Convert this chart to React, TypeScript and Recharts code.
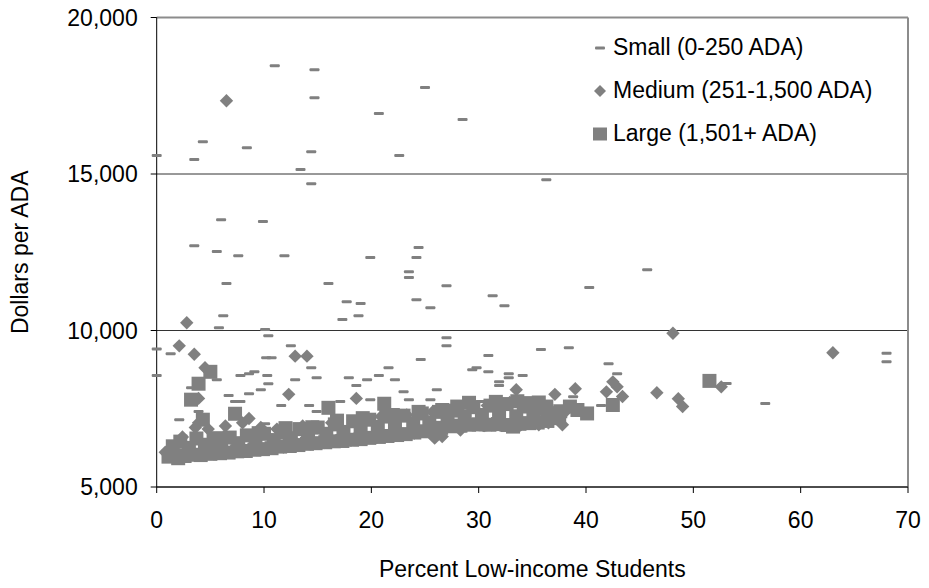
import {
  ScatterChart,
  Scatter,
  XAxis,
  YAxis,
  CartesianGrid,
  ReferenceLine,
  Legend,
} from "recharts";

const xTicks = [0, 10, 20, 30, 40, 50, 60, 70];
const yTicks = [5000, 10000, 15000, 20000];
const seriesNames = ["Small (0-250 ADA)", "Medium (251-1,500 ADA)", "Large (1,501+ ADA)"];

// [percent low-income, dollars per ADA]
const smallSchools: [number, number][] = [
  [11.0, 18460], [14.7, 18330], [25.0, 17760], [14.7, 17440], [20.7, 16930], [28.5, 16740],
  [4.3, 16030], [8.4, 15840], [0.0, 15590], [3.5, 15460], [14.4, 15710], [22.6, 15590],
  [13.4, 15140], [14.4, 14690], [36.3, 14820], [6.0, 13540], [9.9, 13480], [3.5, 12710],
  [5.6, 12520], [7.6, 12390], [11.9, 12390], [19.9, 12330], [24.4, 12650], [24.2, 12330],
  [23.5, 11880], [23.5, 11690], [27.0, 11430], [6.5, 11500], [16.0, 11500], [17.7, 10920],
  [19.0, 10860], [24.2, 10980], [25.5, 10730], [31.3, 11110], [32.4, 10790], [40.3, 11370],
  [45.7, 11940], [6.2, 10470], [17.3, 10350], [18.8, 10470], [5.8, 10090], [10.1, 10030],
  [10.4, 9830], [12.5, 9510], [27.0, 9770], [27.0, 9510], [0.0, 9410], [35.8, 9390],
  [38.4, 9450], [1.3, 9260], [0.0, 8560], [10.2, 9130], [10.7, 9130], [14.4, 8810],
  [10.3, 8560], [7.8, 8560], [8.6, 8620], [9.1, 8680], [10.4, 8300], [12.9, 8430],
  [14.9, 8490], [17.9, 8490], [19.6, 8430], [20.7, 8560], [21.6, 8810], [24.6, 9070],
  [22.2, 8430], [18.6, 8240], [23.0, 8040], [26.1, 8110], [6.7, 7920], [8.6, 7980],
  [9.7, 8110], [7.3, 7730], [7.8, 7730], [11.6, 7600], [14.2, 7600], [14.9, 7410],
  [17.1, 7730], [19.9, 7790], [23.5, 7790], [25.5, 7790], [3.9, 7410], [2.1, 7150],
  [3.2, 8170], [5.6, 8430], [10.1, 7020], [30.9, 9200], [29.4, 8750], [29.8, 8810],
  [30.9, 8680], [32.8, 8620], [32.8, 8490], [34.1, 8560], [31.9, 8360], [31.9, 8240],
  [42.1, 8940], [42.9, 8620], [41.4, 7600], [30.2, 7730], [30.4, 6830], [38.8, 7880],
  [53.1, 8310], [56.7, 7670], [68.0, 9270], [68.0, 9000],
];

const mediumSchools: [number, number][] = [
  [6.5, 17340], [2.8, 10250], [2.1, 9510], [3.5, 9240], [4.5, 8810], [12.9, 9180],
  [14.0, 9180], [12.3, 7960], [18.6, 7830], [0.8, 6110], [3.9, 7830], [8.6, 7190],
  [25.9, 6560], [48.1, 9910], [33.5, 8110], [37.1, 7960], [39.0, 8140], [42.5, 8360],
  [42.9, 8200], [41.9, 8040], [43.4, 7890], [46.6, 8010], [48.6, 7820], [49.0, 7570],
  [52.6, 8200], [37.8, 6990], [35.6, 6990], [28.3, 6820], [26.6, 6610], [31.2, 6990],
  [63.0, 9290],
  [3.9, 7050], [4.8, 6850], [5.2, 6100], [7.0, 6150], [8.8, 6180], [10.3, 6250],
  [11.8, 6280], [12.9, 6320], [14.3, 6380], [15.6, 6420], [16.9, 6460], [18.1, 6490],
  [19.2, 6540], [20.5, 6580], [21.7, 6620], [22.9, 6670], [24.0, 6720], [27.0, 6900],
  [28.8, 6950], [30.5, 6960], [32.0, 6970], [33.9, 6980], [36.5, 7050],
  [2.4, 6600], [3.6, 6900], [6.4, 6950], [8.0, 7050], [9.7, 6900], [11.2, 6850],
  [13.6, 6950], [16.3, 7050], [18.9, 7150], [20.9, 7250], [23.3, 7300], [25.7, 7400],
  [28.0, 7500], [30.8, 7600], [32.9, 7700], [34.8, 7650], [38.2, 7450],
];

const largeSchools: [number, number][] = [
  [5.0, 8680], [3.9, 8300], [3.2, 7790], [7.3, 7340], [4.3, 7150], [16.0, 7530],
  [21.2, 7660], [2.0, 5920], [51.5, 8390], [42.5, 7620], [40.1, 7350], [38.5, 7570],
  [33.2, 6930], [34.2, 7570], [28.0, 7570], [36.3, 7570],
  [1.1, 5970], [1.7, 6010], [2.6, 5990], [3.4, 6030], [4.1, 6020], [5.0, 6060],
  [5.9, 6080], [6.7, 6100], [7.5, 6140], [8.3, 6150], [9.1, 6190], [9.9, 6210],
  [10.7, 6240], [11.5, 6290], [12.4, 6310], [13.2, 6340], [14.0, 6380], [14.8, 6400],
  [15.7, 6430], [16.5, 6460], [17.3, 6470], [18.2, 6510], [19.0, 6530], [19.8, 6570],
  [20.7, 6600], [21.5, 6630], [22.4, 6660], [23.2, 6690], [24.0, 6740], [24.9, 6780],
  [25.7, 6840], [26.5, 6890], [27.4, 6940], [28.3, 6960], [29.1, 6990], [30.0, 7000],
  [31.0, 6990], [31.8, 7010], [32.7, 6980], [33.8, 7020], [34.7, 7040], [35.5, 7060],
  [36.4, 7110], [37.5, 7200],
  [1.5, 6300], [2.2, 6450], [3.0, 6250], [3.7, 6550], [4.5, 6350], [5.3, 6500],
  [6.0, 6300], [6.8, 6580], [7.6, 6400], [8.4, 6650], [9.2, 6450], [10.0, 6700],
  [10.9, 6500], [11.7, 6740], [12.5, 6560], [13.3, 6850], [14.1, 6620], [15.0, 6900],
  [15.8, 6700], [16.6, 7000], [17.4, 6760], [18.3, 7100], [19.0, 6860], [19.8, 7150],
  [20.6, 6920], [21.4, 7250], [22.2, 6960], [23.0, 7280], [23.9, 7020], [24.7, 7350],
  [25.4, 7060], [26.3, 7400], [27.1, 7160], [27.8, 7440], [28.7, 7250], [29.5, 7550],
  [30.3, 7300], [31.1, 7600], [31.9, 7340], [32.6, 7650], [33.5, 7260], [34.4, 7680],
  [35.1, 7320], [35.9, 7500], [36.8, 7360], [37.6, 7420], [39.2, 7460],
  [5.6, 6560], [9.5, 6720], [12.0, 6880], [14.5, 6910], [16.8, 7120], [19.2, 7200],
  [22.0, 7300], [24.4, 7400], [26.6, 7460], [29.1, 7690], [31.6, 7720], [33.6, 7740],
  [35.6, 7700],
];

const GRAY = "#808080";
const FONT = '"Liberation Sans", Arial, Helvetica, sans-serif';
const FONT_SIZE = 23;

const toPoints = (rows: [number, number][]) => rows.map(([x, y]) => ({ x, y }));

function Dash(props: any) {
  const { cx, cy } = props;
  return <rect x={cx - 5} y={cy - 1.5} width={10} height={3} rx={1} fill={GRAY} />;
}

function Diamond(props: any) {
  const { cx, cy } = props;
  const r = 6.7;
  return (
    <polygon
      points={`${cx},${cy - r} ${cx + r},${cy} ${cx},${cy + r} ${cx - r},${cy}`}
      fill={GRAY}
    />
  );
}

function Square(props: any) {
  const { cx, cy } = props;
  return <rect x={cx - 7} y={cy - 7} width={14} height={14} fill={GRAY} />;
}

const legendMarkers = [
  <rect x={2} y={5.5} width={10} height={3} rx={1} fill={GRAY} />,
  <polygon points="7,1 13,7 7,13 1,7" fill={GRAY} />,
  <rect x={0} y={0.5} width={14} height={13} fill={GRAY} />,
];

function LegendBox() {
  return (
    <div style={{ fontFamily: FONT, fontSize: FONT_SIZE, color: "#000" }}>
      {seriesNames.map((name, i) => (
        <div key={name} style={{ display: "flex", alignItems: "center", height: 43 }}>
          <svg width={14} height={14} style={{ marginRight: 6 }}>
            {legendMarkers[i]}
          </svg>
          <span style={{ whiteSpace: "nowrap" }}>{name}</span>
        </div>
      ))}
    </div>
  );
}

export default function App() {
  const tickStyle = { fill: "#000", fontSize: FONT_SIZE, fontFamily: FONT };
  return (
    <div style={{ position: "absolute", left: 0, top: 0, width: 929, height: 588, background: "#fff" }}>
      <ScatterChart width={929} height={588} margin={{ top: 17.5, right: 21, bottom: 0, left: 0 }}>
        <CartesianGrid horizontal vertical={false} stroke="#333" strokeWidth={1} />
        <XAxis
          type="number"
          dataKey="x"
          domain={[0, 70]}
          ticks={xTicks}
          interval={0}
          height={101}
          tickSize={6}
          tickMargin={19}
          stroke="#000"
          tick={tickStyle}
          label={{
            value: "Percent Low-income Students",
            position: "insideBottom",
            offset: 11,
            fill: "#000",
            fontSize: FONT_SIZE,
            fontFamily: FONT,
          }}
        />
        <YAxis
          type="number"
          dataKey="y"
          domain={[5000, 20000]}
          ticks={yTicks}
          interval={0}
          width={156.7}
          tickSize={6}
          tickMargin={13}
          stroke="#000"
          tick={tickStyle}
          tickFormatter={(v: number) => v.toLocaleString("en-US")}
          label={{
            value: "Dollars per ADA",
            angle: -90,
            position: "insideLeft",
            offset: 20,
            fill: "#000",
            fontSize: FONT_SIZE,
            fontFamily: FONT,
            style: { textAnchor: "middle" },
          }}
        />
        <ReferenceLine y={20000} stroke="#8c8c8c" strokeWidth={2} />
        <ReferenceLine x={70} stroke="#8c8c8c" strokeWidth={2} />
        <Legend
          layout="vertical"
          align="center"
          verticalAlign="middle"
          content={() => <LegendBox />}
          wrapperStyle={{ left: 593, top: 26, width: 330, height: 130 }}
        />
        <Scatter name={seriesNames[0]} data={toPoints(smallSchools)} shape={Dash} isAnimationActive={false} />
        <Scatter name={seriesNames[1]} data={toPoints(mediumSchools)} shape={Diamond} isAnimationActive={false} />
        <Scatter name={seriesNames[2]} data={toPoints(largeSchools)} shape={Square} isAnimationActive={false} />
      </ScatterChart>
    </div>
  );
}
